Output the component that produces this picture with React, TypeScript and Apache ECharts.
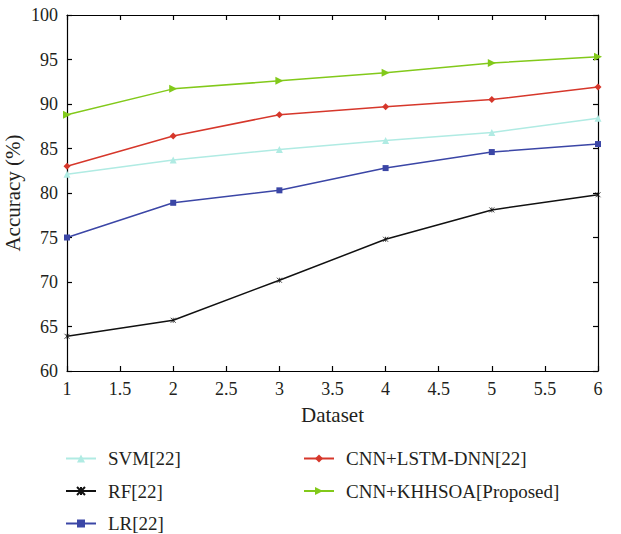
import React, { useEffect, useRef } from "react";
import * as echarts from "echarts";

const datasets = [1, 2, 3, 4, 5, 6];
const svm = [82.1, 83.7, 84.9, 85.9, 86.8, 88.4];
const rf = [63.9, 65.7, 70.2, 74.8, 78.1, 79.8];
const lr = [75.0, 78.9, 80.3, 82.8, 84.6, 85.5];
const cnnLstm = [83.0, 86.4, 88.8, 89.7, 90.5, 91.9];
const proposed = [88.8, 91.7, 92.6, 93.5, 94.6, 95.3];

const seriesNames = ["SVM[22]", "RF[22]", "LR[22]", "CNN+LSTM-DNN[22]", "CNN+KHHSOA[Proposed]"];

const FONT = "Liberation Serif";
const TXT = "#231f20";

export default function App() {
  const ref = useRef<HTMLDivElement>(null);
  useEffect(() => {
    if (!ref.current) return;
    const chart = echarts.init(ref.current, undefined, { renderer: "svg" });
    const pair = (arr: number[]) => arr.map((v, i) => [datasets[i], v]);
    const mk = (name: string, data: number[], color: string, symbol: string, size: number, extra: any = {}) => ({
      name,
      type: "line",
      data: pair(data),
      symbol,
      symbolSize: size,
      lineStyle: { color, width: 1.5 },
      itemStyle: { color, ...extra },
      z: 3,
    });
    const axisLine = { show: true, lineStyle: { color: "#000", width: 1.2 } };
    const axisTick = { show: true, inside: true, length: 5, lineStyle: { color: "#000", width: 1.2 } };
    const legendCommon = {
      orient: "vertical",
      top: 449,
      padding: 0,
      height: 85,
      itemWidth: 30,
      itemHeight: 10,
      itemGap: 13.5,
      textStyle: { fontFamily: FONT, fontSize: 19, color: TXT, lineHeight: 18, padding: [0, 0, 0, 7] },
    };
    chart.setOption({
      animation: false,
      backgroundColor: "#fff",
      grid: { left: 67, top: 15, right: 23, bottom: 163, containLabel: false, outerBoundsMode: "none" },
      legend: [
        { ...legendCommon, data: seriesNames.slice(0, 3), left: 65 },
        { ...legendCommon, data: seriesNames.slice(3), left: 303 },
      ],
      xAxis: [
        {
          type: "value",
          min: 1,
          max: 6,
          interval: 0.5,
          name: "Dataset",
          nameLocation: "middle",
          nameGap: 33,
          nameMoveOverlap: false,
          nameTextStyle: { fontFamily: FONT, fontSize: 21, color: TXT },
          axisLine,
          axisTick,
          splitLine: { show: false },
          axisLabel: { fontFamily: FONT, fontSize: 18, color: TXT, margin: 9 },
        },
        {
          type: "value",
          position: "top",
          min: 1,
          max: 6,
          interval: 0.5,
          axisLine,
          axisTick,
          splitLine: { show: false },
          axisLabel: { show: false },
        },
      ],
      yAxis: [
        {
          type: "value",
          min: 60,
          max: 100,
          interval: 5,
          name: "Accuracy (%)",
          nameLocation: "middle",
          nameGap: 44,
          nameMoveOverlap: false,
          nameTextStyle: { fontFamily: FONT, fontSize: 21, color: TXT },
          axisLine,
          axisTick,
          splitLine: { show: false },
          axisLabel: { fontFamily: FONT, fontSize: 18, color: TXT, margin: 9 },
        },
        {
          type: "value",
          position: "right",
          min: 60,
          max: 100,
          interval: 5,
          axisLine,
          axisTick,
          splitLine: { show: false },
          axisLabel: { show: false },
        },
      ],
      series: [
        mk(seriesNames[0], svm, "#b0ebe3", "triangle", 7),
        mk(seriesNames[1], rf, "#111111", "path://M0,0 L10,10 M10,0 L0,10 M5,0 L5,10", 5, { borderColor: "#111111", borderWidth: 0.8 }),
        mk(seriesNames[2], lr, "#3b46a6", "rect", 6),
        mk(seriesNames[3], cnnLstm, "#d6372b", "diamond", 7),
        mk(seriesNames[4], proposed, "#82c91a", "path://M0,0 L10,5 L0,10 Z", 8),
      ],
    });
    return () => chart.dispose();
  }, []);
  return <div ref={ref} style={{ position: "fixed", left: 0, top: 0, width: 621, height: 534 }} />;
}
